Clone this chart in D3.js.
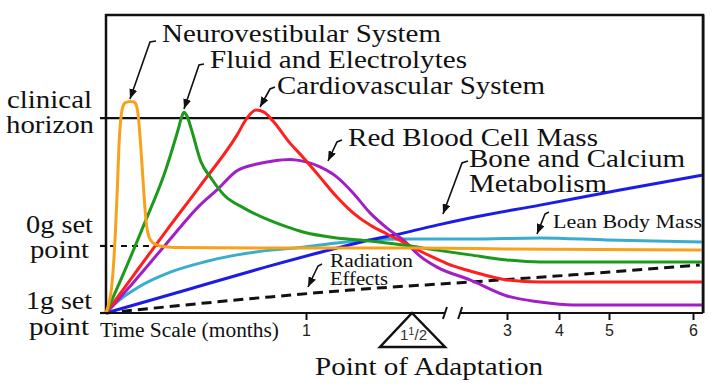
<!DOCTYPE html>
<html>
<head>
<meta charset="utf-8">
<script src="https://cdn.jsdelivr.net/npm/d3@7"></script>
<style>
  html, body { margin: 0; padding: 0; background: #fff; }
  svg { display: block; }
</style>
</head>
<body>
<svg id="chart" width="720" height="389"></svg>
<script>
// ---------------- DATA ----------------
// time in months, value in arbitrary adaptation units (0 = 1g set point)
const neurovestibular = [[0,0],[0.015,3.4],[0.025,7.0],[0.0375,16.1],[0.0475,27.9],[0.0575,43.0],[0.065,56.4],[0.0725,64.1],[0.0825,68.8],[0.095,70.5],[0.12,71.0],[0.14,70.8],[0.1525,69.5],[0.1625,65.4],[0.1725,57.0],[0.1825,47.3],[0.1925,37.2],[0.2025,29.5],[0.215,25.5],[0.235,23.5],[0.27,22.5],[0.345,22.0],[1,21.8],[1.5,21.8],[3,21.5],[6.12,21.1]];
const fluidElectrolytes = [[0,0],[0.095,14.4],[0.195,30.5],[0.295,47.3],[0.36,61.4],[0.38,66.1],[0.39,67.4],[0.405,66.1],[0.425,62.1],[0.475,50.7],[0.525,45.3],[0.59,39.6],[0.69,35.2],[0.825,30.9],[0.905,28.9],[0.985,27.2],[1.146,25.2],[1.302,24.2],[1.458,22.8],[1.895,21.1],[2.416,19.5],[3,17.8],[3.635,17.1],[6.12,17.1]];
const cardiovascular = [[0,0],[0.135,12.4],[0.305,27.9],[0.47,42.6],[0.655,59.7],[0.705,65.4],[0.75,68.1],[0.79,67.4],[0.835,64.4],[0.92,57.0],[0.985,52.3],[1.066,45.6],[1.146,38.9],[1.222,33.6],[1.302,29.5],[1.382,26.5],[1.458,23.8],[1.626,20.8],[1.895,18.1],[2.147,15.8],[2.416,14.1],[3,11.1],[3.635,10.4],[6.12,10.4]];
const redBloodCellMass = [[0,0],[0.135,10.1],[0.305,23.5],[0.47,36.2],[0.555,41.3],[0.655,47.7],[0.755,50.0],[0.835,51.0],[0.92,51.5],[0.955,51.3],[1.066,49.0],[1.146,45.6],[1.222,40.3],[1.302,33.6],[1.382,28.5],[1.458,24.5],[1.626,19.1],[1.895,15.4],[2.416,11.1],[3,5.7],[3.635,3.7],[4.28,2.7],[6.12,2.7]];
const boneCalcium = [[0,0],[0.41,7.9],[0.82,15.8],[1.146,21.8],[1.302,24.5],[1.458,26.8],[1.895,29.5],[2.416,31.9],[3.635,36.2],[5.131,41.3],[6.12,46.3]];
const leanBodyMass = [[0,0],[0.05,3.4],[0.155,8.4],[0.325,13.8],[0.49,17.1],[0.655,19.5],[0.825,21.1],[0.985,22.1],[1.146,23.5],[1.302,24.5],[1.458,24.8],[2.416,24.8],[3.635,25.2],[4.96,24.5],[6.12,23.8]];
const radiationEffects = [[0,0],[0.82,5.4],[1.208,7.7],[2.416,10.4],[4.28,12.8],[6.08,16.1]];

const seriesNames  = ["Lean Body Mass","Bone and Calcium Metabolism","Red Blood Cell Mass","Cardiovascular System","Fluid and Electrolytes","Neurovestibular System"];
const seriesData   = [leanBodyMass, boneCalcium, redBloodCellMass, cardiovascular, fluidElectrolytes, neurovestibular];
const seriesColors = ["#3aaccf","#1c1ce6","#a11fc6","#ff1f1f","#1c9a1c","#f9a11b"];

const tickMonths = [1, 3, 4, 5, 6];
const tickLabels = ["1", "3", "4", "5", "6"];
const adaptationMonth = 1.5;
const breakStart = 2.02, breakEnd = 2.26;
const timeEnd = 6.12;

const levelValues = [0, 22.5, 65.4];          // 1g set point, 0g set point, clinical horizon
const levelLabels = [["1g set","point"],["0g set","point"],["clinical","horizon"]];

// ---------------- LAYOUT ----------------
const SERIF = "Liberation Serif, Times New Roman, serif";
const SANS = "Liberation Sans, Arial, sans-serif";

const svg = d3.select("#chart");
const x = d3.scaleLinear().domain([0,1,1.5,3,4,5,6]).range([106,306,412,507,559,609,693]);
const y = d3.scaleLinear().domain([0,100]).range([313,15]);

// arrow marker
svg.append("defs").append("marker")
  .attr("id","arrow").attr("viewBox","0 0 10 8").attr("refX",10).attr("refY",4)
  .attr("markerWidth",10).attr("markerHeight",8).attr("markerUnits","userSpaceOnUse")
  .attr("orient","auto")
  .append("path").attr("d","M0,0 L10,4 L0,8 Z").attr("fill","#111");

// frame (left, top, right)
const x0 = x(0), x1 = x(timeEnd), yb = y(0), yt = y(100);
svg.append("path")
  .attr("d", `M${x0},${yb} L${x0},${yt} L${x1},${yt} L${x1},${yb}`)
  .attr("fill","none").attr("stroke","#111").attr("stroke-width",2.5);

// clinical horizon line
svg.append("line")
  .attr("x1", x0 - 6).attr("x2", x1)
  .attr("y1", y(levelValues[2])).attr("y2", y(levelValues[2]))
  .attr("stroke","#111").attr("stroke-width",2.2);

// left ticks
svg.selectAll("line.ltick").data(levelValues.slice(0,2)).enter().append("line")
  .attr("class","ltick")
  .attr("x1", x0 - 6).attr("x2", x0).attr("y1", d => y(d)).attr("y2", d => y(d))
  .attr("stroke","#111").attr("stroke-width",2.2);

// 0g dashed reference line
svg.append("line")
  .attr("x1", x0 + 4).attr("x2", x(0.26))
  .attr("y1", y(levelValues[1])).attr("y2", y(levelValues[1]))
  .attr("stroke","#111").attr("stroke-width",2).attr("stroke-dasharray","6,5");

// curves
const line = d3.line().x(d => x(d[0])).y(d => y(d[1])).curve(d3.curveMonotoneX);

svg.append("path").datum(radiationEffects)
  .attr("d", line).attr("fill","none").attr("stroke","#111")
  .attr("stroke-width",3).attr("stroke-dasharray","10,6");

svg.selectAll("path.series").data(seriesData).enter().append("path")
  .attr("class","series")
  .attr("d", line).attr("fill","none")
  .attr("stroke", (d,i) => seriesColors[i])
  .attr("stroke-width",3).attr("stroke-linejoin","round");

// re-draw right border on top
svg.append("line").attr("x1",x1).attr("x2",x1).attr("y1",yt).attr("y2",yb)
  .attr("stroke","#111").attr("stroke-width",2.5);

// bottom axis with break
const axisG = svg.append("g").attr("transform", `translate(0,${yb})`);
const axis = d3.axisBottom(x).tickValues(tickMonths).tickFormat((d,i) => tickLabels[i])
  .tickSize(7).tickPadding(5);
axisG.call(axis);
axisG.select(".domain").remove();
axisG.selectAll(".tick line").attr("stroke","#111").attr("stroke-width",2);
axisG.selectAll(".tick text").attr("font-family", SANS)
  .attr("font-size",16).attr("fill","#222");

axisG.append("line").attr("x1", x0 - 6).attr("x2", x(breakStart)).attr("y1",0).attr("y2",0)
  .attr("stroke","#111").attr("stroke-width",2.2);
axisG.append("line").attr("x1", x(breakEnd)).attr("x2", x1).attr("y1",0).attr("y2",0)
  .attr("stroke","#111").attr("stroke-width",2.2);
[breakStart, breakEnd].forEach(b => {
  axisG.append("line").attr("x1", x(b) - 2).attr("x2", x(b) + 2).attr("y1", 6).attr("y2", -6)
    .attr("stroke","#111").attr("stroke-width",2);
});

// point of adaptation triangle
const ax = x(adaptationMonth);
svg.append("path")
  .attr("d", `M${ax},${yb} L${ax + 33},${yb + 34} L${ax - 32},${yb + 34} Z`)
  .attr("fill","#fff").attr("stroke","#111").attr("stroke-width",2.5).attr("stroke-linejoin","miter");
const frac = svg.append("text").attr("x", ax - 12).attr("y", yb + 27)
  .attr("font-family", SANS).attr("fill","#333").attr("font-size",15);
frac.append("tspan").text("1");
frac.append("tspan").attr("font-size",11).attr("dy",-5).text("1");
frac.append("tspan").attr("font-size",15).attr("dy",5).text("/2");

// text labels (serif)
const labels = [
  {t:"clinical", x:7, y:108, len:85, s:26},
  {t:"horizon", x:6, y:133, len:88, s:26},
  {t:"0g set", x:26, y:233, len:67, s:26},
  {t:"point", x:30, y:258, len:59, s:26},
  {t:"1g set", x:26, y:309, len:66, s:26},
  {t:"point", x:29, y:335, len:60, s:26},
  {t:"Neurovestibular System", x:162, y:42, len:279, s:26},
  {t:"Fluid and Electrolytes", x:210, y:68, len:257, s:26},
  {t:"Cardiovascular System", x:277, y:94, len:268, s:26},
  {t:"Red Blood Cell Mass", x:348, y:146, len:250, s:26},
  {t:"Bone and Calcium", x:469, y:167, len:216, s:26},
  {t:"Metabolism", x:469, y:192, len:138, s:26},
  {t:"Lean Body Mass", x:553, y:228, len:149, s:19},
  {t:"Radiation", x:330, y:267, len:83, s:19},
  {t:"Effects", x:330, y:285, len:58, s:19},
  {t:"Time Scale (months)", x:100, y:337, len:179, s:20},
  {t:"Point of Adaptation", x:315, y:375, len:228, s:26}
];
svg.selectAll("text.lbl").data(labels).enter().append("text")
  .attr("class","lbl")
  .attr("x", d => d.x).attr("y", d => d.y)
  .attr("font-family", SERIF)
  .attr("fill", "#111")
  .attr("font-size", d => d.s)
  .attr("textLength", d => d.len).attr("lengthAdjust","spacingAndGlyphs")
  .text(d => d.t);

// leader arrows
const leaders = [
  [[156,41],[150,42],[130,99]],
  [[204,64],[199,65],[184,109]],
  [[275,87],[270,89],[260,107]],
  [[342,140],[337,142],[328,161]],
  [[468,161],[462,163],[443,214]],
  [[549,212],[545,214],[537,234]],
  [[322,264],[318,266],[308,287]]
];
svg.selectAll("path.leader").data(leaders).enter().append("path")
  .attr("class","leader")
  .attr("d", d => d3.line()(d))
  .attr("fill","none").attr("stroke","#111").attr("stroke-width",1.6)
  .attr("marker-end","url(#arrow)");
</script>
</body>
</html>
